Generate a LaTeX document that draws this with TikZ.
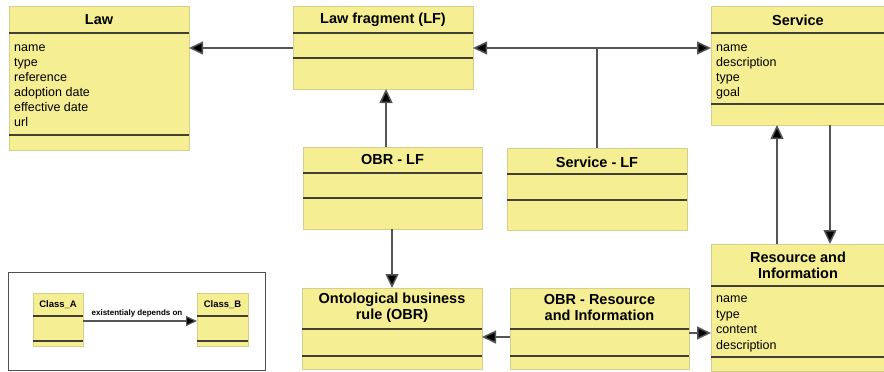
\documentclass[tikz,border=0pt]{standalone}
\usepackage{fontspec}
\setmainfont{Liberation Sans}
\usetikzlibrary{arrows.meta,calc}

\definecolor{boxfill}{RGB}{246,238,146}
\definecolor{boxedge}{RGB}{214,206,140}
\definecolor{sepline}{RGB}{66,64,50}
\definecolor{connline}{RGB}{85,85,85}
\definecolor{frameline}{RGB}{80,80,80}

\tikzset{
  cls/.style={draw=boxedge, fill=boxfill, line width=0.9pt, anchor=north west,
              inner sep=0pt, outer sep=0pt},
  sep/.style={draw=sepline, line width=1.7pt},
  conn/.style={draw=connline, line width=1.5pt},
  tip/.style={-{Triangle[length=14pt,width=13pt,fill=black]}},
  smalltip/.style={-{Triangle[length=11pt,width=10pt,fill=black]}},
  title/.style={font=\bfseries\fontsize{14.5}{16}\selectfont, align=center, inner sep=0pt},
  smalltitle/.style={font=\bfseries\fontsize{9.5}{11}\selectfont, inner sep=0pt},
  attr/.style={font=\fontsize{12.5}{15}\selectfont, anchor=north west, align=left, inner sep=0pt},
}
% horizontal compartment separator, #2 pt below the top of box #1
\newcommand\compart[2]{\draw[sep] ([yshift=-#2pt]#1.north west) -- ([yshift=-#2pt]#1.north east);}

\begin{document}
\begin{tikzpicture}[x=1pt,y=-1pt]
\useasboundingbox (0,0) rectangle (884,372);

% ---- classes ----
\node[cls, minimum width=180pt, minimum height=144pt] (law)   at (9,6) {};
\node[cls, minimum width=180pt, minimum height=83pt]  (lf)    at (293,6) {};
\node[cls, minimum width=179pt, minimum height=82pt]  (obrlf) at (303,147) {};
\node[cls, minimum width=180pt, minimum height=82pt]  (svclf) at (507,148) {};
\node[cls, minimum width=174pt, minimum height=119pt] (svc)   at (711,6) {};
\node[cls, minimum width=174pt, minimum height=127pt] (ri)    at (711,244) {};
\node[cls, minimum width=180pt, minimum height=81pt]  (obr)   at (302,288) {};
\node[cls, minimum width=179pt, minimum height=81pt]  (obrri) at (510,288) {};

\compart{law}{27}   \compart{law}{129}
\compart{lf}{27}    \compart{lf}{52}
\compart{obrlf}{26} \compart{obrlf}{51}
\compart{svclf}{26} \compart{svclf}{52}
\compart{svc}{27}   \compart{svc}{98}
\compart{ri}{42}    \compart{ri}{113}
\compart{obr}{41}   \compart{obr}{68}
\compart{obrri}{41} \compart{obrri}{68}

% ---- class names ----
\node[title] (lawT)   at ([yshift=-14pt]law.north)   {Law};
\node[title] (lfT)    at ([yshift=-14pt]lf.north)    {Law fragment (LF)};
\node[title] (obrlfT) at ([yshift=-13pt]obrlf.north) {OBR - LF};
\node[title] (svclfT) at ([yshift=-14pt]svclf.north) {Service - LF};
\node[title] (svcT)   at ([yshift=-14pt]svc.north)   {Service};
\node[title] (riT)    at ([yshift=-21pt]ri.north)    {Resource and\\Information};
\node[title] (obrT)   at ([yshift=-20pt]obr.north)   {Ontological business\\rule (OBR)};
\node[title] (obrriT) at ([yshift=-20pt]obrri.north) {OBR - Resource\\and Information};

% ---- attributes ----
\node[attr] (lawA) at ([xshift=5pt,yshift=-34.5pt]law.north west)
  {\strut name\\type\\reference\\adoption date\\effective date\\url};
\node[attr] (svcA) at ([xshift=5pt,yshift=-34.5pt]svc.north west)
  {\strut name\\description\\type\\goal};
\node[attr, font=\fontsize{12.5}{15.6}\selectfont] (riA) at ([xshift=5pt,yshift=-47.5pt]ri.north west)
  {\strut name\\type\\content\\description};

% ---- connectors ----
\coordinate (rowTop) at (0,48);
\draw[conn, tip] (lf.west |- rowTop) -- (law.east |- rowTop);
\coordinate (junc) at (svclf.north |- rowTop);
\draw[conn] (svclf.north) -- (junc);
\draw[conn, tip] (junc) -- (lf.east |- rowTop);
\draw[conn, tip] (junc) -- (svc.west |- rowTop);

\coordinate (colUp) at (386,0);
\coordinate (colDown) at (392,0);
\draw[conn, tip] (obrlf.north -| colUp) -- (lf.south -| colUp);
\draw[conn, tip] (obrlf.south -| colDown) -- (obr.north -| colDown);

\coordinate (colRiUp) at (777,0);
\coordinate (colRiDown) at (830,0);
\draw[conn, tip] (ri.north -| colRiUp) -- (svc.south -| colRiUp);
\draw[conn, tip] (svc.south -| colRiDown) -- (ri.north -| colRiDown);

\coordinate (rowObr) at (0,337);
\coordinate (rowRi) at (0,333);
\draw[conn, tip] (obrri.west |- rowObr) -- (obr.east |- rowObr);
\draw[conn, tip] (obrri.east |- rowRi) -- (ri.west |- rowRi);

% ---- legend ----
\node[draw=frameline, line width=1pt, anchor=north west, inner sep=0pt,
      minimum width=257pt, minimum height=98pt] (legend) at (8,272) {};
\node[cls, minimum width=50pt, minimum height=53pt] (clA) at (33,293) {};
\node[cls, minimum width=51pt, minimum height=53pt] (clB) at (197,293) {};
\compart{clA}{23} \compart{clA}{48}
\compart{clB}{23} \compart{clB}{48}
\node[smalltitle] (clAT) at ([yshift=-12pt]clA.north) {Class\_A};
\node[smalltitle] (clBT) at ([yshift=-12pt]clB.north) {Class\_B};
\coordinate (rowLeg) at (0,321);
\draw[conn, line width=1.2pt, smalltip] (clA.east |- rowLeg) -- (clB.west |- rowLeg)
  node[midway, above=3pt, xshift=-3pt, inner sep=0pt, font=\bfseries\fontsize{8}{9}\selectfont] (legLbl) {existentialy depends on};

\end{tikzpicture}
\end{document}
